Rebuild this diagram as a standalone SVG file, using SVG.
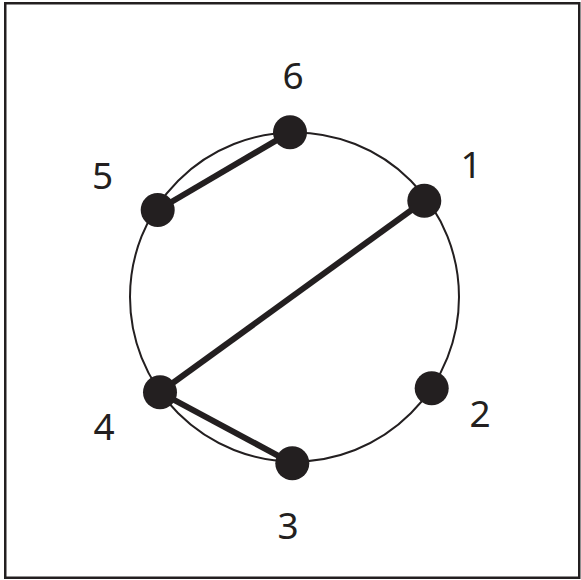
<svg xmlns="http://www.w3.org/2000/svg" width="581" height="580" viewBox="0 0 581 580">
<style>
.lbl{font-family:"Noto Sans","Liberation Sans",sans-serif;font-size:37px;fill:#231f20;text-anchor:middle}
.dot{fill:#231f20}
.edge{stroke:#231f20;stroke-width:6;fill:none}
</style>
<rect x="0" y="0" width="581" height="580" fill="#fff"/>
<rect x="5.25" y="3.25" width="574" height="574.5" fill="none" stroke="#231f20" stroke-width="2.5"/>
<circle id="ring" cx="294.5" cy="297" r="164.5" fill="none" stroke="#231f20" stroke-width="2"/>
<g id="connectors">
<line class="edge" x1="290" y1="132.3" x2="157.7" y2="210"/>
<line class="edge" x1="424.3" y1="200.7" x2="160" y2="392.3"/>
<line class="edge" x1="160" y1="392.3" x2="292.3" y2="463.3"/>
</g>
<g id="n1"><circle class="dot" cx="424.3" cy="200.7" r="17"/><text class="lbl" x="471" y="177.7">1</text></g>
<g id="n2"><circle class="dot" cx="431.7" cy="388.3" r="17"/><text class="lbl" x="480" y="426.5">2</text></g>
<g id="n3"><circle class="dot" cx="292.3" cy="463.3" r="17"/><text class="lbl" x="288" y="539">3</text></g>
<g id="n4"><circle class="dot" cx="160" cy="392.3" r="17"/><text class="lbl" x="104" y="440">4</text></g>
<g id="n5"><circle class="dot" cx="157.7" cy="210" r="17"/><text class="lbl" x="102.5" y="189">5</text></g>
<g id="n6"><circle class="dot" cx="290" cy="132.3" r="17"/><text class="lbl" x="293" y="88.5">6</text></g>
</svg>
